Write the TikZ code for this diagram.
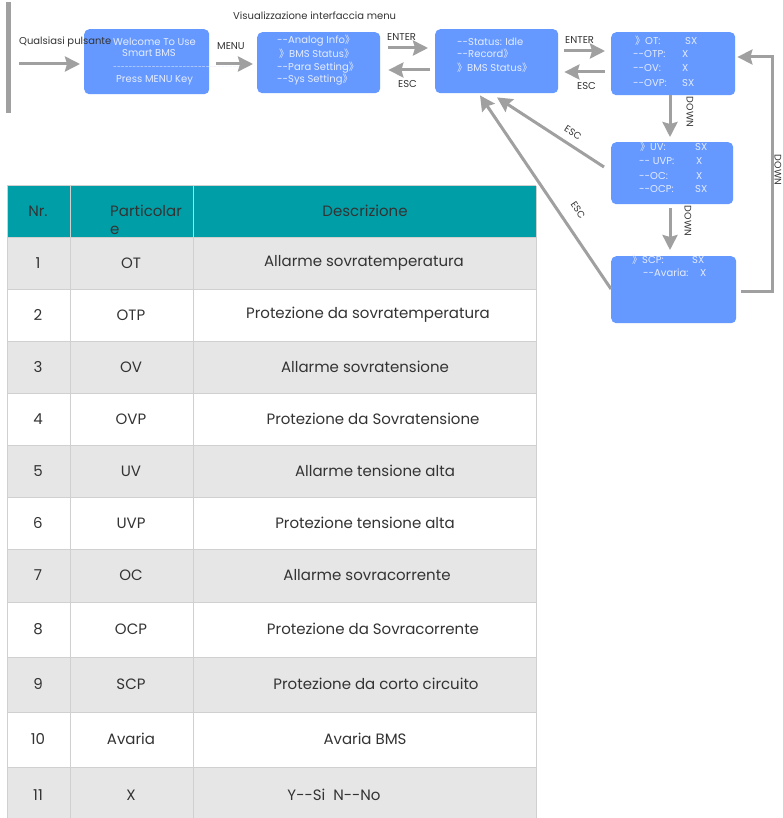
\documentclass[tikz,border=0pt]{standalone}
\usepackage{fontspec}
\setmainfont{Poppins}
\newfontfamily\cjk{Noto Sans CJK SC}
\usetikzlibrary{arrows.meta,calc}
\definecolor{boxblue}{RGB}{102,153,255}
\definecolor{boxtxt}{RGB}{228,236,255}
\definecolor{arrgray}{RGB}{160,160,160}
\definecolor{tealhead}{RGB}{0,159,168}
\definecolor{rowgray}{RGB}{230,230,230}
\definecolor{gridgray}{RGB}{208,208,208}
\definecolor{txt}{RGB}{51,51,51}
\newcommand\dbr{{\cjk 》}}
\newcommand\dashrow{\foreach\k in {1,...,34}{-}}
\begin{document}
\begin{tikzpicture}[x=1pt,y=-1pt,
  scr/.style={fill=boxblue,rounded corners=5pt,inner sep=0pt,anchor=north west},
  btxt/.style={text=boxtxt,font=\fontsize{10}{12}\selectfont,inner sep=0pt,anchor=west},
  lbl/.style={text=txt,font=\fontsize{10}{12}\selectfont,inner sep=0pt,anchor=west},
  rlbl/.style={text=txt,font=\fontsize{9.5}{11}\selectfont,inner sep=0pt},
  arr/.style={draw=arrgray,line width=3pt,-{Stealth[length=15pt,width=15pt,inset=2pt]}},
  cell/.style={text=txt,font=\fontsize{15}{18}\selectfont,inner sep=0pt},
  grid/.style={draw=gridgray,line width=1pt}]
\useasboundingbox (0,0) rectangle (783,818);
\fill[white] (0,0) rectangle (783,818);

% left bar
\fill[arrgray] (6,2) rectangle (11,113);

% screens
\node[scr,minimum width=125pt,minimum height=65pt] (b1) at (84,29) {};
\node[scr,minimum width=123pt,minimum height=61pt] (b2) at (257,32) {};
\node[scr,minimum width=123pt,minimum height=64pt] (b3) at (435,29) {};
\node[scr,minimum width=124pt,minimum height=63pt] (b4) at (611,32) {};
\node[scr,minimum width=122pt,minimum height=62pt] (b5) at (611,142) {};
\node[scr,minimum width=125pt,minimum height=67pt] (b6) at (611,256) {};

% screen texts
\node[btxt] (t1a) at (113,42) {Welcome To Use};
\node[btxt] (t1b) at (122,53) {Smart BMS};
\node[btxt,font=\fontsize{7}{8}\selectfont] (t1c) at (113,68) {\dashrow};
\node[btxt] (t1d) at (116,80) {Press MENU Key};

\node[btxt] (t2a) at (277,41) {-{}-Analog Info\dbr};
\node[btxt] (t2b) at (279,54) {\dbr BMS Status\dbr};
\node[btxt] (t2c) at (277,68) {-{}-Para Setting\dbr};
\node[btxt] (t2d) at (277,80) {-{}-Sys Setting\dbr};

\node[btxt] (t3a) at (457,42) {-{}-Status: Idle};
\node[btxt] (t3b) at (457,54) {-{}-Record\dbr};
\node[btxt] (t3c) at (457,68) {\dbr BMS Status\dbr};

\node[btxt] (t4a) at (635,41) {\dbr OT:};
\node[btxt] (v4a) at (685,41) {SX};
\node[btxt] (t4b) at (633,54) {-{}-OTP:};
\node[btxt] (v4b) at (682,54) {X};
\node[btxt] (t4c) at (633,68) {-{}-OV:};
\node[btxt] (v4c) at (682,68) {X};
\node[btxt] (t4d) at (633,83) {-{}-OVP:};
\node[btxt] (v4d) at (682,83) {SX};

\node[btxt] (t5a) at (640,147) {\dbr UV:};
\node[btxt] (v5a) at (695,147) {SX};
\node[btxt] (t5b) at (639,161) {-{}- UVP:};
\node[btxt] (v5b) at (696,161) {X};
\node[btxt] (t5c) at (639,176) {-{}-OC:};
\node[btxt] (v5c) at (696,176) {X};
\node[btxt] (t5d) at (639,189) {-{}-OCP:};
\node[btxt] (v5d) at (695,189) {SX};

\node[btxt] (t6a) at (632,260) {\dbr SCP:};
\node[btxt] (v6a) at (692,260) {SX};
\node[btxt] (t6b) at (643,273) {-{}-Avaria:};
\node[btxt] (v6b) at (700,273) {X};

% labels
\node[lbl] (lq) at (19,42) {Qualsiasi pulsante};
\node[lbl] (lv) at (233,16) {Visualizzazione interfaccia menu};
\node[lbl] (lm) at (217,46) {MENU};
\node[lbl] (le1) at (387,37) {ENTER};
\node[lbl] (lx1) at (398,84) {ESC};
\node[lbl] (le2) at (565,40) {ENTER};
\node[lbl] (lx2) at (577,86) {ESC};
\node[rlbl,rotate=-90] (ld1) at (690,112) {DOWN};
\node[rlbl,rotate=-90] (ld2) at (688,221) {DOWN};
\node[rlbl,rotate=-90] (ld3) at (778,170) {DOWN};
\node[rlbl,rotate=-33] (lx3) at (573,133) {ESC};
\node[rlbl,rotate=-56] (lx4) at (578,210) {ESC};

% connectors
\coordinate (start) at (19,64);
\draw[arr] (start) -- ($(b1.west |- start)+(-4,0)$);
\draw[arr] ($(b1.east |- 0,64)+(7,0)$) -- ($(b2.west |- 0,64)+(-4,0)$);
\draw[arr] ($(b2.east |- 0,48)+(8,0)$) -- ($(b3.west |- 0,48)+(-7,0)$);
\draw[arr] ($(b3.west |- 0,70)+(-5,0)$) -- ($(b2.east |- 0,70)+(8,0)$);
\draw[arr] ($(b3.east |- 0,51)+(6,0)$) -- ($(b4.west |- 0,51)+(-6,0)$);
\draw[arr] ($(b4.west |- 0,72)+(-6,0)$) -- ($(b3.east |- 0,72)+(6,0)$);
\draw[arr] ($(b4.south -| 670,0)+(0,0)$) -- ($(b5.north -| 670,0)+(0,-5)$);
\draw[arr] ($(b5.south -| 670,0)+(0,4)$) -- ($(b6.north -| 670,0)+(0,-6)$);
\draw[arr] ($(b5.west |- 0,167)+(-7,0)$) -- ($(b3.south -| 497,0)+(0,4)$);
\draw[arr] ($(b6.west |- 0,289)$) -- ($(b3.south -| 480,0)+(0,2)$);
\draw[arr] ($(b6.east |- 0,291)+(5,0)$) -- (772,291) -- (772,57) -- ($(b4.east |- 0,57)+(2,0)$);

% table
\fill[tealhead] (7,186) rectangle (536,237);
\foreach \a/\b in {237/289,341/393,445/497,549/602,657/712,767/818}
  \fill[rowgray] (7,\a) rectangle (536,\b);
\foreach \yy in {186,237,289,341,393,445,497,549,602,657,712,767,818}
  \draw[grid] (7,\yy) -- (536,\yy);
\foreach \xx in {7,70,193,536}
  \draw[grid] (\xx,186) -- (\xx,818);

\node[cell] (hn) at (38,211) {Nr.};
\node[cell,anchor=west] (hp) at (110,211) {Particolar};
\node[cell,anchor=west] (hp2) at (110,230) {e};
\node[cell] (hd) at (365,211) {Descrizione};

\foreach \i/\yc/\p/\d/\xc in {
 1/263/OT/Allarme sovratemperatura/364,
 2/315/OTP/Protezione da sovratemperatura/368,
 3/367/OV/Allarme sovratensione/365,
 4/419/OVP/Protezione da Sovratensione/373,
 5/471/UV/Allarme tensione alta/375,
 6/523/UVP/Protezione tensione alta/365,
 7/575/OC/Allarme sovracorrente/367,
 8/629/OCP/Protezione da Sovracorrente/373,
 9/684/SCP/Protezione da corto circuito/376,
 10/739/Avaria/Avaria BMS/365,
 11/795/X/{Y-{}-Si\ \ N-{}-No}/334}
{
 \node[cell] (n\i) at (38,\yc) {\i};
 \node[cell] (p\i) at (131,\yc) {\p};
 \node[cell] (d\i) at (\xc,\yc) {\d};
}
\end{tikzpicture}
\end{document}
